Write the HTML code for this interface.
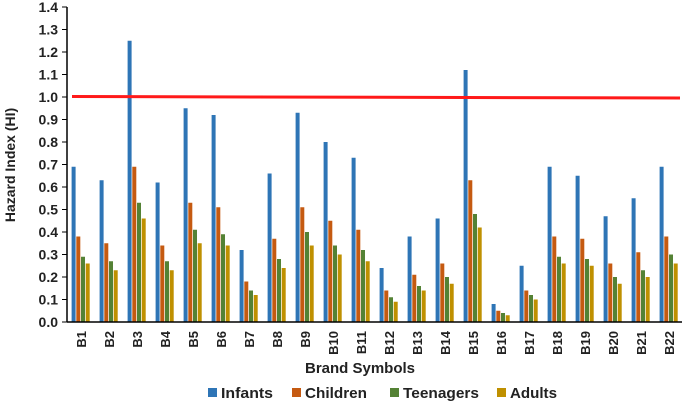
<!DOCTYPE html>
<html><head><meta charset="utf-8"><style>
body{margin:0;background:#fff;}
svg{display:block;font-family:"Liberation Sans",sans-serif;}
</style></head><body>
<svg id="c" width="685" height="408">
<g id="bars"></g>
<g id="axes"></g>
</svg>
<script>
const categories=["B1","B2","B3","B4","B5","B6","B7","B8","B9","B10","B11","B12","B13","B14","B15","B16","B17","B18","B19","B20","B21","B22"];
const infants=[.69,.63,1.25,.62,.95,.92,.32,.66,.93,.80,.73,.24,.38,.46,1.12,.08,.25,.69,.65,.47,.55,.69];
const children=[.38,.35,.69,.34,.53,.51,.18,.37,.51,.45,.41,.14,.21,.26,.63,.05,.14,.38,.37,.26,.31,.38];
const teenagers=[.29,.27,.53,.27,.41,.39,.14,.28,.40,.34,.32,.11,.16,.20,.48,.04,.12,.29,.28,.20,.23,.30];
const adults=[.26,.23,.46,.23,.35,.34,.12,.24,.34,.30,.27,.09,.14,.17,.42,.03,.10,.26,.25,.17,.20,.26];
const yTicks=[0,0.1,0.2,0.3,0.4,0.5,0.6,0.7,0.8,0.9,1.0,1.1,1.2,1.3,1.4];
const threshold=1.0;
const seriesNames=["Infants","Children","Teenagers","Adults"];
const colors=["#2e75b6","#c55a11","#548235","#bf9000"];
const series=[infants,children,teenagers,adults];
const NS="http://www.w3.org/2000/svg";
const y0=322,y1=7,ymax=1.4,x0=67,step=28,first=81;
const Y=v=>y0-(v/ymax)*(y0-y1);
const X=i=>first+i*step;
function mk(t,a,p){const e=document.createElementNS(NS,t);for(const k in a)e.setAttribute(k,a[k]);(p||document.getElementById('c')).appendChild(e);return e;}
const bars=document.getElementById('bars'),axes=document.getElementById('axes');
series.forEach((s,si)=>{s.forEach((v,i)=>{
 const r=mk('rect',{x:X(i)-9.4+si*4.7,y:Y(v),width:4,height:y0-Y(v),fill:colors[si]},bars);
 
 
});});
const yl=mk('line',{x1:x0,y1:y1,x2:x0,y2:y0,stroke:'#000','stroke-width':1.5},axes);

const xl=mk('line',{x1:x0,y1:y0,x2:682,y2:y0,stroke:'#000','stroke-width':1.5},axes);

yTicks.forEach(t=>{
 mk('line',{x1:x0-5,y1:Y(t),x2:x0,y2:Y(t),stroke:'#000'},axes);
 const tx=mk('text',{x:x0-9,y:Y(t)+5,'text-anchor':'end','font-size':14,'font-weight':'bold',fill:'#222'},axes);
 tx.textContent=t.toFixed(1);
 
});
categories.forEach((c,i)=>{
 const tx=mk('text',{x:0,y:0,'text-anchor':'end','font-size':13,'font-weight':'bold',fill:'#222',transform:`translate(${X(i)+5},331) rotate(-90)`},axes);
 tx.textContent=c;
 
});
const rl=mk('line',{x1:72,y1:Y(threshold)-0.5,x2:680,y2:Y(threshold)+1,stroke:'#ff1a1a','stroke-width':3},axes);

const yt=mk('text',{x:0,y:0,'text-anchor':'middle','font-size':14,'font-weight':'bold',fill:'#222',transform:'translate(15,165) rotate(-90)'},axes);
yt.textContent='Hazard Index (HI)';
const xt=mk('text',{x:360,y:373,'text-anchor':'middle','font-size':15,'font-weight':'bold',fill:'#222'},axes);
xt.textContent='Brand Symbols';
const lx=[208,292,390,497];
seriesNames.forEach((n,si)=>{
 const g=mk('g',{},axes);
 
 mk('rect',{x:lx[si],y:388,width:9,height:9,fill:colors[si]},g);
 const t=mk('text',{x:lx[si]+13,y:398,'font-size':15,'font-weight':'bold',fill:'#222',textLength:[52,62,76,47][si],lengthAdjust:'spacingAndGlyphs'},g);
 t.textContent=n;
});
</script>
</body></html>
